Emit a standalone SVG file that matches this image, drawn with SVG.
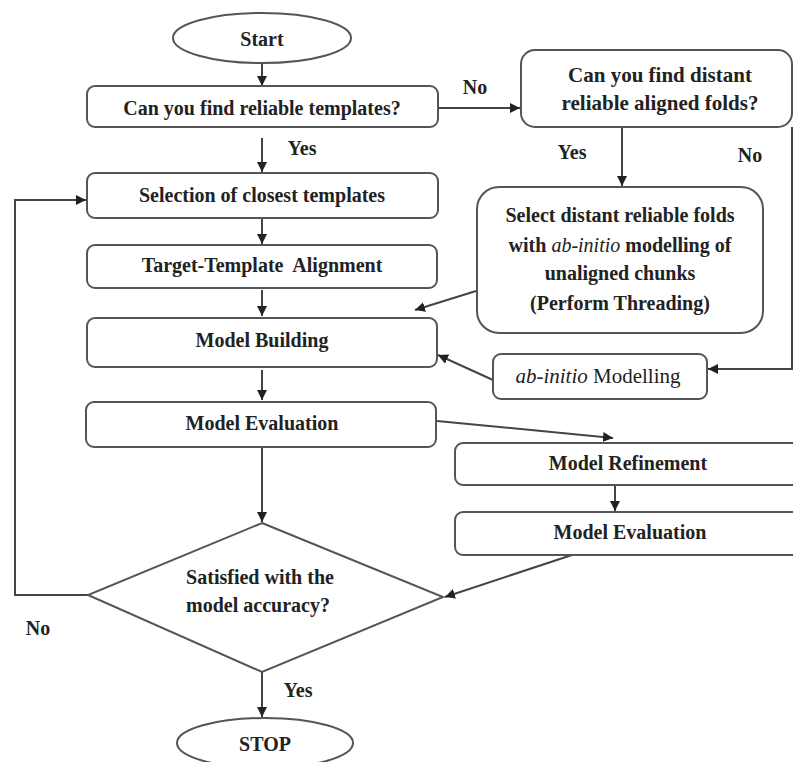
<svg xmlns="http://www.w3.org/2000/svg" width="793" height="762" viewBox="0 0 793 762">
<defs>
<marker id="ah" viewBox="0 0 10 10" refX="10" refY="5" markerWidth="10" markerHeight="10" markerUnits="userSpaceOnUse" orient="auto">
<path d="M0,0 L10,5 L0,10 z" fill="#222"/>
</marker>
<style>
.box{fill:#fff;stroke:#555;stroke-width:2}
text{font-family:"Liberation Serif","DejaVu Serif",serif;fill:#222;text-anchor:middle}
.t{font-size:20px;font-weight:bold}
.r{font-size:21px;font-weight:normal}
.c{fill:none;stroke:#444;stroke-width:2;marker-end:url(#ah)}
</style>
</defs>
<rect width="793" height="762" fill="#fff"/>
<g id="connectors">
<line class="c" x1="262" y1="63" x2="262" y2="86"/>
<line class="c" x1="438" y1="108" x2="520" y2="108"/>
<line class="c" x1="262" y1="138" x2="262" y2="172"/>
<line class="c" x1="262" y1="218" x2="262" y2="244"/>
<line class="c" x1="262" y1="290" x2="262" y2="316"/>
<line class="c" x1="262" y1="370" x2="262" y2="400"/>
<line class="c" x1="476" y1="291" x2="415" y2="310"/>
<line class="c" x1="493" y1="380" x2="438" y2="355"/>
<line class="c" x1="622" y1="128" x2="622" y2="186"/>
<polyline class="c" points="792,127 792,369 708,369"/>
<line class="c" x1="437" y1="421" x2="613" y2="438"/>
<line class="c" x1="615" y1="485" x2="615" y2="511"/>
<line class="c" x1="572" y1="555" x2="445" y2="597"/>
<line class="c" x1="262" y1="447" x2="262" y2="522"/>
<polyline class="c" points="88,595 15,595 15,200 86,200"/>
<line class="c" x1="262" y1="672" x2="262" y2="717"/>
</g>
<g id="labels">
<text class="t" x="475" y="94">No</text>
<text class="t" x="302" y="155">Yes</text>
<text class="t" x="572" y="159">Yes</text>
<text class="t" x="750" y="162">No</text>
<text class="t" x="38" y="635">No</text>
<text class="t" x="298" y="697">Yes</text>
</g>
<g id="start">
<ellipse class="box" cx="262" cy="38" rx="89" ry="25"/>
<text class="t" x="262" y="46">Start</text>
</g>
<g id="reliable-templates">
<rect class="box" x="87" y="86" width="351" height="41" rx="8"/>
<text class="t" x="262" y="115">Can you find reliable templates?</text>
</g>
<g id="selection">
<rect class="box" x="87" y="173" width="351" height="45" rx="8"/>
<text class="t" x="262" y="202">Selection of closest templates</text>
</g>
<g id="alignment">
<rect class="box" x="87" y="245" width="350" height="43" rx="8"/>
<text class="t" x="262" y="272" xml:space="preserve">Target-Template  Alignment</text>
</g>
<g id="model-building">
<rect class="box" x="87" y="318" width="350" height="49" rx="8"/>
<text class="t" x="262" y="347">Model Building</text>
</g>
<g id="model-evaluation">
<rect class="box" x="86" y="402" width="350" height="45" rx="8"/>
<text class="t" x="262" y="430">Model Evaluation</text>
</g>
<g id="distant-folds">
<rect class="box" x="521" y="50" width="271" height="77" rx="14"/>
<text class="t" x="660" y="82" style="font-size:21px">Can you find distant</text>
<text class="t" x="660" y="110" style="font-size:21px">reliable aligned folds?</text>
</g>
<g id="threading">
<rect class="box" x="477" y="187" width="286" height="146" rx="22"/>
<text class="t" x="620" y="222">Select distant reliable folds</text>
<text class="t" x="620" y="252">with <tspan font-style="italic" font-weight="normal">ab-initio</tspan> modelling of</text>
<text class="t" x="620" y="280">unaligned chunks</text>
<text class="t" x="620" y="310">(Perform Threading)</text>
</g>
<g id="ab-initio">
<rect class="box" x="493" y="354" width="214" height="45" rx="8"/>
<text class="r" x="598" y="383"><tspan font-style="italic">ab-initio</tspan> Modelling</text>
</g>
<g id="refinement">
<rect class="box" x="455" y="443" width="345" height="42" rx="8"/>
<text class="t" x="628" y="470">Model Refinement</text>
</g>
<g id="model-evaluation-2">
<rect class="box" x="455" y="512" width="345" height="43" rx="8"/>
<text class="t" x="630" y="539">Model Evaluation</text>
</g>
<g id="decision">
<polygon class="box" points="262,523 443,597 262,672 88,595"/>
<text class="t" x="260" y="584">Satisfied with the</text>
<text class="t" x="258" y="612">model accuracy?</text>
</g>
<g id="stop">
<ellipse class="box" cx="265" cy="743" rx="88" ry="25"/>
<text class="t" x="265" y="751">STOP</text>
</g>
</svg>
